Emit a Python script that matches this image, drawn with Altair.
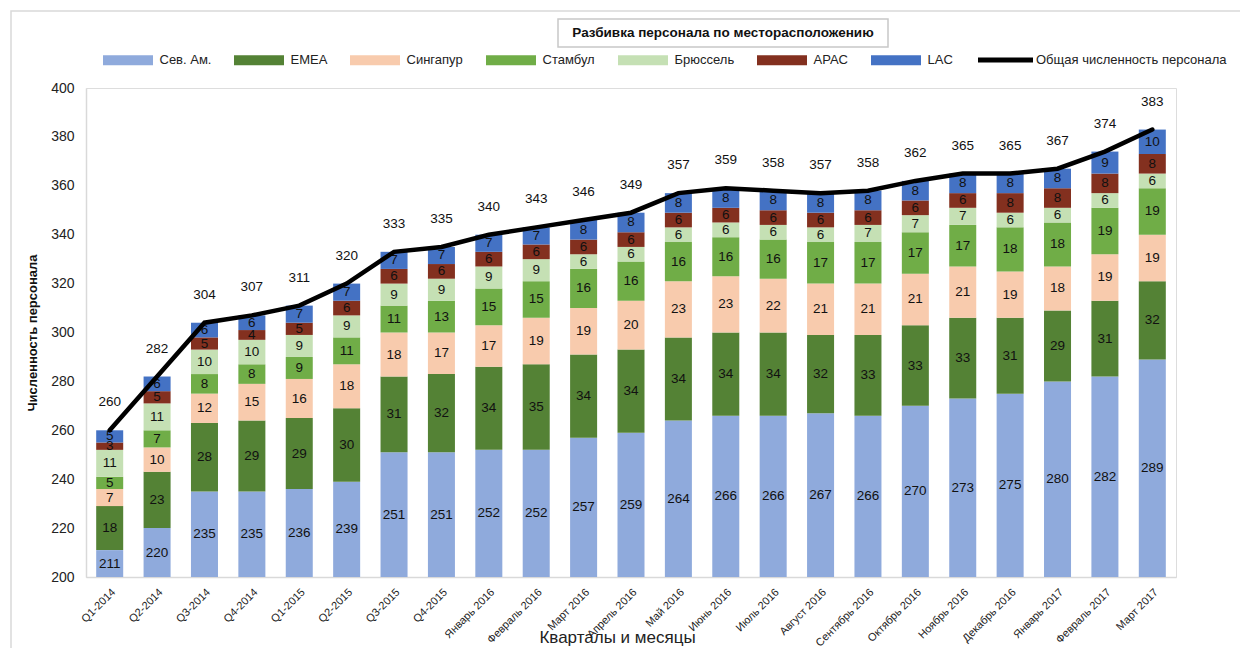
import altair as alt
import pandas as pd

FONT = "Liberation Sans, Arial, sans-serif"

categories = ["Q1-2014", "Q2-2014", "Q3-2014", "Q4-2014", "Q1-2015", "Q2-2015", "Q3-2015", "Q4-2015",
              "Январь 2016", "Февраль 2016", "Март 2016", "Апрель 2016", "Май 2016", "Июнь 2016",
              "Июль 2016", "Август 2016", "Сентябрь 2016", "Октябрь 2016", "Ноябрь 2016",
              "Декабрь 2016", "Январь 2017", "Февраль 2017", "Март 2017"]

series_names = ["Сев. Ам.", "EMEA", "Сингапур", "Стамбул", "Брюссель", "APAC", "LAC"]
series_colors = ["#8faadc", "#548235", "#f8cbad", "#70ad47", "#c5e0b4", "#83301f", "#4472c4"]

sev_am   = [211, 220, 235, 235, 236, 239, 251, 251, 252, 252, 257, 259, 264, 266, 266, 267, 266, 270, 273, 275, 280, 282, 289]
emea     = [18, 23, 28, 29, 29, 30, 31, 32, 34, 35, 34, 34, 34, 34, 34, 32, 33, 33, 33, 31, 29, 31, 32]
singapur = [7, 10, 12, 15, 16, 18, 18, 17, 17, 19, 19, 20, 23, 23, 22, 21, 21, 21, 21, 19, 18, 19, 19]
stambul  = [5, 7, 8, 8, 9, 11, 11, 13, 15, 15, 16, 16, 16, 16, 16, 17, 17, 17, 17, 18, 18, 19, 19]
brussel  = [11, 11, 10, 10, 9, 9, 9, 9, 9, 9, 6, 6, 6, 6, 6, 6, 7, 7, 7, 6, 6, 6, 6]
apac     = [3, 5, 5, 4, 5, 6, 6, 6, 6, 6, 6, 6, 6, 6, 6, 6, 6, 6, 6, 8, 8, 8, 8]
lac      = [5, 6, 6, 6, 7, 7, 7, 7, 7, 7, 8, 8, 8, 8, 8, 8, 8, 8, 8, 8, 8, 9, 10]
totals   = [260, 282, 304, 307, 311, 320, 333, 335, 340, 343, 346, 349, 357, 359, 358, 357, 358, 362, 365, 365, 367, 374, 383]

TOTAL_NAME = "Общая численность персонала"
TITLE = "Разбивка персонала по месторасположению"
Y_TITLE = "Численность персонала"
X_TITLE = "Кварталы и месяцы"
Y_MIN, Y_MAX = 200, 400

series_values = [sev_am, emea, singapur, stambul, brussel, apac, lac]

rows = []
for i, cat in enumerate(categories):
    acc = 0
    for k, name in enumerate(series_names):
        v = series_values[k][i]
        start, end = acc, acc + v
        acc = end
        rows.append({"cat": cat, "series": name, "order": k, "value": v,
                     "start": start, "end": end,
                     "mid": (max(start, Y_MIN) + end) / 2})
bars_df = pd.DataFrame(rows)
tot_df = pd.DataFrame({"cat": categories, "total": totals, "name": TOTAL_NAME})
one_df = pd.DataFrame({"t": [TITLE]})

x_enc = alt.X("cat:N", sort=categories,
              scale=alt.Scale(paddingInner=0.43, paddingOuter=0.215),
              axis=alt.Axis(title=X_TITLE, labelAngle=-45, labelFontSize=11, labelFont=FONT,
                            labelColor="#222", ticks=False, labelPadding=9, labelLimit=0,
                            domainColor="#d9d9d9", domainWidth=1.5,
                            titleFont=FONT, titleFontSize=17, titleFontWeight="normal",
                            titleColor="#222", titleBaseline="top", titleX=531, titleY=52))
y_scale = alt.Scale(domain=[Y_MIN, Y_MAX], clamp=True, nice=False)
y_axis = alt.Axis(title=Y_TITLE, values=list(range(200, 401, 20)), grid=False, ticks=False,
                  labelFont=FONT, labelFontSize=14, labelColor="#222", labelPadding=12,
                  domainColor="#d9d9d9", domainWidth=1.5,
                  titleFont=FONT, titleFontSize=13, titleFontWeight="bold", titleColor="#111",
                  titlePadding=11)

outer = alt.Chart(one_df).mark_rect(fillOpacity=0, stroke="#d9d9d9", strokeWidth=1.5).encode(
    x=alt.value(-75), x2=alt.value(1300), y=alt.value(-77), y2=alt.value(700))
frame = alt.Chart(one_df).mark_rect(fill="white", stroke="#c8c8c8", strokeWidth=1.5).encode(
    x=alt.value(472), x2=alt.value(802), y=alt.value(-69), y2=alt.value(-41))
title_text = alt.Chart(one_df).mark_text(font=FONT, fontSize=13.5, fontWeight="bold", color="#111",
                                         align="center", baseline="middle").encode(
    x=alt.value(637), y=alt.value(-55), text="t:N")

bars = alt.Chart(bars_df).mark_bar().encode(
    x=x_enc,
    y=alt.Y("start:Q", scale=y_scale, axis=y_axis),
    y2="end:Q",
    color=alt.Color("series:N", sort=series_names,
                    scale=alt.Scale(domain=series_names, range=series_colors),
                    legend=alt.Legend(orient="none", legendX=10.5, legendY=-34.5, direction="horizontal",
                                      title=None, symbolType="M0,-1h10v2h-10z", symbolSize=100,
                                      symbolStrokeWidth=0, symbolOpacity=1, labelOffset=50,
                                      columnPadding=16, labelFont=FONT, labelFontSize=13,
                                      labelColor="#222", padding=0, labelLimit=0)),
)
bar_text = alt.Chart(bars_df).mark_text(font=FONT, fontSize=13.5, color="#111", baseline="middle").encode(
    x=alt.X("cat:N", sort=categories),
    y=alt.Y("mid:Q", scale=y_scale),
    text="value:Q",
)
line = alt.Chart(tot_df).mark_line(strokeWidth=4.5, strokeCap="round").encode(
    x=alt.X("cat:N", sort=categories),
    y=alt.Y("total:Q", scale=y_scale),
    stroke=alt.Stroke("name:N", scale=alt.Scale(domain=[TOTAL_NAME], range=["#000000"]),
                      legend=alt.Legend(orient="none", legendX=884.5, legendY=-35.5, title=None,
                                        symbolType="M0,0h11", symbolSize=100, symbolStrokeWidth=5,
                                        labelOffset=50.5, labelFont=FONT, labelFontSize=13,
                                        labelColor="#222", padding=0, labelLimit=0)),
)
line_text = alt.Chart(tot_df).mark_text(font=FONT, fontSize=13.5, color="#111", dy=-28).encode(
    x=alt.X("cat:N", sort=categories),
    y=alt.Y("total:Q", scale=y_scale),
    text="total:Q",
)

chart = alt.layer(outer, frame, title_text, bars, bar_text, line, line_text).resolve_scale(
    color="independent", stroke="independent"
).properties(
    width=1090, height=489,
    autosize=alt.AutoSizeParams(type="none"),
    padding={"left": 78, "top": 80, "right": 64, "bottom": 71},
).configure_view(stroke=None).configure(background="white")

chart.save("out.html", embed_options={"renderer": "svg", "actions": False})
